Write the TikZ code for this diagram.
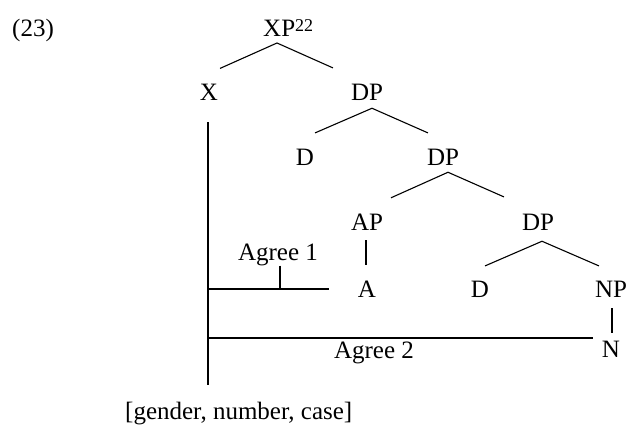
\documentclass[tikz,border=0pt]{standalone}
\usepackage{fontspec}
\setmainfont{Liberation Serif}
\usetikzlibrary{calc}
\begin{document}
\begin{tikzpicture}[x=1pt,y=-1pt,
  lbl/.style={font=\fontsize{25}{30}\selectfont, inner sep=0pt, anchor=base},
  branch/.style={line width=1.1pt},
  agreeline/.style={line width=1.6pt}]
\path[use as bounding box] (0,0) rectangle (631,425);
% nodes
\node[lbl, anchor=base west] (ex) at (12,37) {(23)};
\node[lbl, anchor=base west] (xp) at (263,37) {XP{\fontsize{18}{18}\selectfont\raisebox{5pt}{22}}};
\node[lbl] (x) at (209,100) {X};
\node[lbl] (dp1) at (367,100) {DP};
\node[lbl] (d1) at (305,165) {D};
\node[lbl] (dp2) at (443,165) {DP};
\node[lbl] (ap) at (367,230) {AP};
\node[lbl] (dp3) at (538,230) {DP};
\node[lbl] (a) at (367,297) {A};
\node[lbl] (d2) at (480,297) {D};
\node[lbl] (np) at (611,297) {NP};
\node[lbl] (n) at (611,357) {N};
\node[lbl] (agree1) at (278,260) {Agree 1};
\node[lbl] (agree2) at (374,358) {Agree 2};
\node[lbl, anchor=base west] (feat) at (125,419) {[gender, number, case]};
% tree branches
\draw[branch] ($(x.north)+(11,-15)$) -- ($(xp.base west)+(14,6)$) -- ($(dp1.north)+(-34,-15.5)$);
\draw[branch] ($(d1.north)+(10,-15.5)$) -- ($(dp1.south)+(5,8)$) -- ($(dp2.north)+(-15,-15.5)$);
\draw[branch] ($(ap.north)+(24,-15.5)$) -- ($(dp2.south)+(5,7)$) -- ($(dp3.north)+(-34,-16.5)$);
\draw[branch] ($(d2.north)+(5,-14.5)$) -- ($(dp3.south)+(4,11)$) -- ($(np.north)+(-12,-14.5)$);
\draw[branch] ($(ap.south)+(-1,10)$) -- ($(a.north)+(-1,-15.5)$);
\draw[branch] ($(np.south)+(1,11)$) -- ($(n.north)+(1,-7.5)$);
% agree lines
\draw[agreeline] ($(x.south)+(-1,22)$) -- ($(x.south |- feat.north)+(-1,-16)$);
\draw[agreeline] ($(x.south |- a.west)+(-1,0)$) -- ($(a.west)+(-29,0)$);
\draw[agreeline] (agree1.south) ++(2,0) -- ($(agree1.south |- a.west)+(2,0)$);
\draw[agreeline] ($(x.south |- n.west)+(-1,-11)$) -- ($(n.west)+(-9,-11)$);
\end{tikzpicture}
\end{document}
